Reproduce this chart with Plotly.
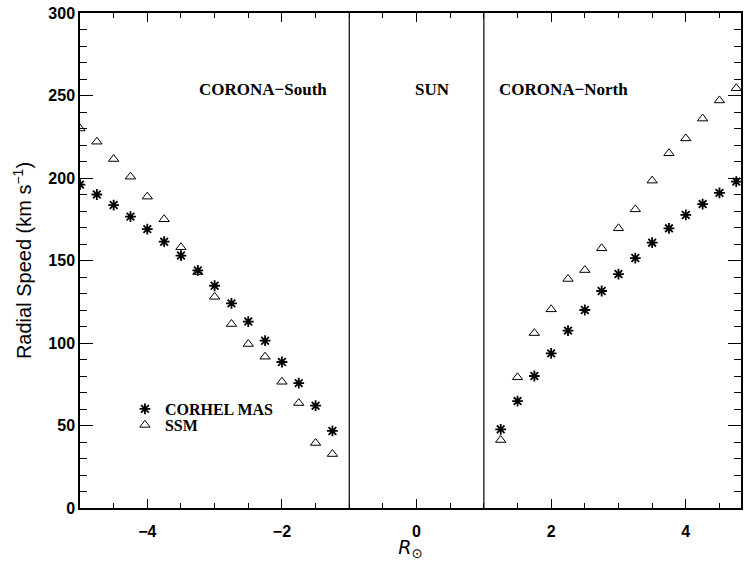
import plotly.graph_objects as go

# Data
x_south = [-5.0, -4.75, -4.5, -4.25, -4.0, -3.75, -3.5, -3.25, -3.0, -2.75, -2.5, -2.25, -2.0, -1.75, -1.5, -1.25]
mas_south = [196, 190, 183.6, 176.6, 169, 161.4, 153, 144, 134.7, 124, 113, 101.4, 88.5, 75.7, 62, 46.7]
ssm_south = [230, 222, 211.5, 200.8, 188.7, 175, 158, 143, 128, 111.5, 99.4, 91.7, 76.5, 63.6, 39.4, 32.7]

x_north = [1.25, 1.5, 1.75, 2.0, 2.25, 2.5, 2.75, 3.0, 3.25, 3.5, 3.75, 4.0, 4.25, 4.5, 4.75]
mas_north = [47.7, 64.8, 80, 93.7, 107.5, 120, 131.5, 141.8, 151.5, 160.8, 169.5, 177.6, 184.2, 191, 197.8]
ssm_north = [41.2, 79.2, 106, 120.4, 138.8, 144.2, 157.4, 169.5, 181, 198.4, 215, 224, 236, 247, 254.4]

region_labels = ["CORONA\u2212South", "SUN", "CORONA\u2212North"]
boundaries = [-1, 1]

serif = "Liberation Serif"
sans = "Liberation Sans"

fig = go.Figure()

mas_marker = dict(symbol="asterisk-open", size=9, color="black", line=dict(color="black", width=1.8))
ssm_marker = dict(symbol="triangle-up-open", size=9, color="black", line=dict(color="black", width=1))

fig.add_trace(go.Scatter(x=x_south + x_north, y=mas_south + mas_north, mode="markers",
                         marker=mas_marker, name="CORHEL MAS", legend="legend"))
fig.add_trace(go.Scatter(x=x_south + x_north, y=ssm_south + ssm_north, mode="markers",
                         marker=ssm_marker, name="SSM", legend="legend2"))

for b in boundaries:
    fig.add_vline(x=b, line=dict(color="black", width=1.2))

ann_font = dict(family=serif, size=17, color="black", weight="bold")
fig.add_annotation(x=-1.3, y=0.846, xref="x", yref="paper", text=region_labels[0],
                   showarrow=False, xanchor="right", yanchor="middle", font=ann_font)
fig.add_annotation(x=0.23, y=0.846, xref="x", yref="paper", text=region_labels[1],
                   showarrow=False, xanchor="center", yanchor="middle", font=ann_font)
fig.add_annotation(x=1.2, y=0.846, xref="x", yref="paper", text=region_labels[2],
                   showarrow=False, xanchor="left", yanchor="middle", font=ann_font)

leg_common = dict(xanchor="left", yanchor="middle", bgcolor="rgba(0,0,0,0)",
                  font=dict(family=serif, size=16, color="black", weight="bold"),
                  itemwidth=30, borderwidth=0)

fig.update_layout(
    width=746, height=561,
    margin=dict(l=80, r=3, t=13, b=53),
    paper_bgcolor="white", plot_bgcolor="white",
    showlegend=True,
    legend=dict(x=0.068, y=(508 - 409) / 495, **leg_common),
    legend2=dict(x=0.068, y=(508 - 425) / 495, **leg_common),
)

fig.update_xaxes(
    range=[-5, 4.82], tickmode="linear", tick0=0, dtick=2,
    ticks="inside", ticklen=9, tickwidth=1.2, tickcolor="black",
    minor=dict(dtick=0.5, ticks="inside", ticklen=5, tickwidth=1, tickcolor="black"),
    showline=True, linecolor="black", linewidth=1.5, mirror="allticks",
    showgrid=False, zeroline=False,
    ticklabelstandoff=8,
    tickfont=dict(family=sans, size=16, color="black", weight="bold"),
    title=dict(text="<i>R</i><sub>\u2299</sub>", font=dict(family="DejaVu Sans", size=19, color="black"), standoff=1),
)
fig.update_yaxes(
    range=[0, 300], tickmode="linear", tick0=0, dtick=50,
    ticks="inside", ticklen=13, tickwidth=1.2, tickcolor="black",
    minor=dict(dtick=10, ticks="inside", ticklen=7, tickwidth=1, tickcolor="black"),
    showline=True, linecolor="black", linewidth=1.5, mirror="allticks",
    showgrid=False, zeroline=False,
    tickfont=dict(family=sans, size=16, color="black", weight="bold"),
    title=dict(text="Radial Speed (km s<sup>\u22121</sup>)", font=dict(family=sans, size=20, color="black"), standoff=11),
)

fig.write_html("out.html")
